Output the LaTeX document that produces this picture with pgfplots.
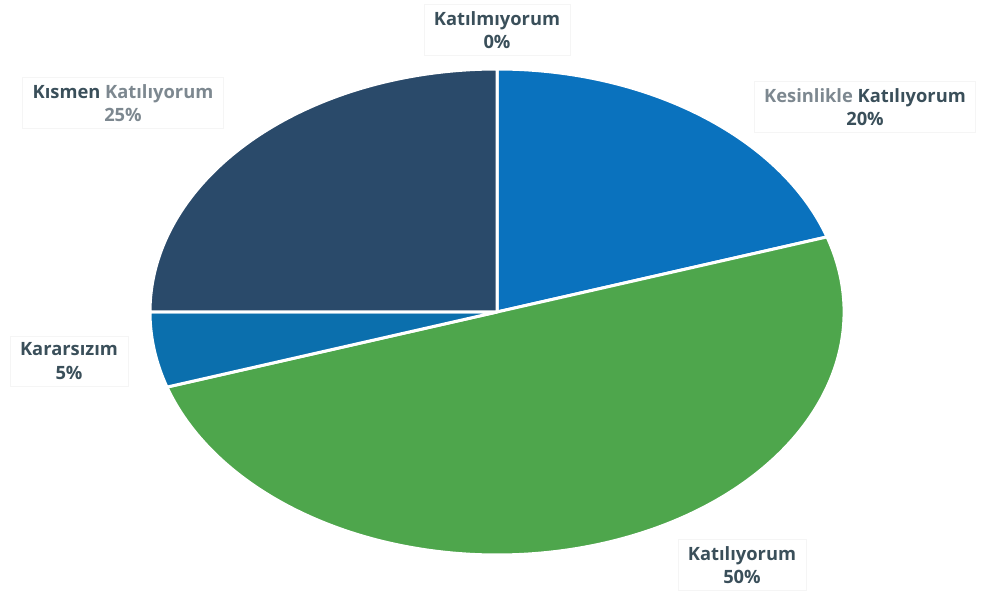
\documentclass[border=0pt]{standalone}
\usepackage{fontspec}
\setmainfont{Open Sans}
\usepackage{pgfplots}
\pgfplotsset{compat=1.18}

\definecolor{cKes}{HTML}{0A72BE}
\definecolor{cKat}{HTML}{4EA64C}
\definecolor{cKar}{HTML}{0B6FAD}
\definecolor{cKis}{HTML}{2A4A6A}
\definecolor{cNo}{HTML}{7F7F7F}
\definecolor{txt}{HTML}{3A4F5A}
\definecolor{txtl}{HTML}{7D8890}

\begin{document}
\begin{tikzpicture}
\begin{axis}[
  scale only axis, width=591.6pt, height=355.2pt,
  xmin=0, xmax=986, ymin=0, ymax=592,
  hide axis, clip=false,
]
\path (rel axis cs:0,0) rectangle (rel axis cs:1,1);
% pie: centre (497,280), radii 347 x 243 (axis units), clockwise from 90 deg
\xdef\start{90}
\foreach \v/\c in {0/cNo, 20/cKes, 50/cKat, 5/cKar, 25/cKis}{
  \pgfmathsetmacro\en{\start-3.6*\v}
  \edef\tmp{\noexpand\fill[\c, draw=white, line width=1.8pt, line join=round]
    (axis cs:497,280) -- (axis cs:{497+347*cos(\start)},{280+243*sin(\start)})
    arc[start angle=\start, end angle=\en, x radius=208.2pt, y radius=145.8pt] -- cycle;}
  \tmp
  \xdef\start{\en}
}
\tikzset{lab/.style={font=\bfseries\fontsize{11}{14}\selectfont, align=center,
  text=txt, draw=black!4, line width=0.5pt, inner xsep=6pt, inner ysep=4pt}}
\node[lab] at (axis cs:497,562) {Katılmıyorum\\0\%};
\node[lab] at (axis cs:865,485) {\textcolor{txtl}{Kesinlikle} Katılıyorum\\20\%};
\node[lab] at (axis cs:123,489) {Kısmen \textcolor{txtl}{Katılıyorum}\\\textcolor{txtl}{25\%}};
\node[lab] at (axis cs:69,231) {Kararsızım\\5\%};
\node[lab] at (axis cs:742,27) {Katılıyorum\\50\%};
\end{axis}
\end{tikzpicture}
\end{document}
